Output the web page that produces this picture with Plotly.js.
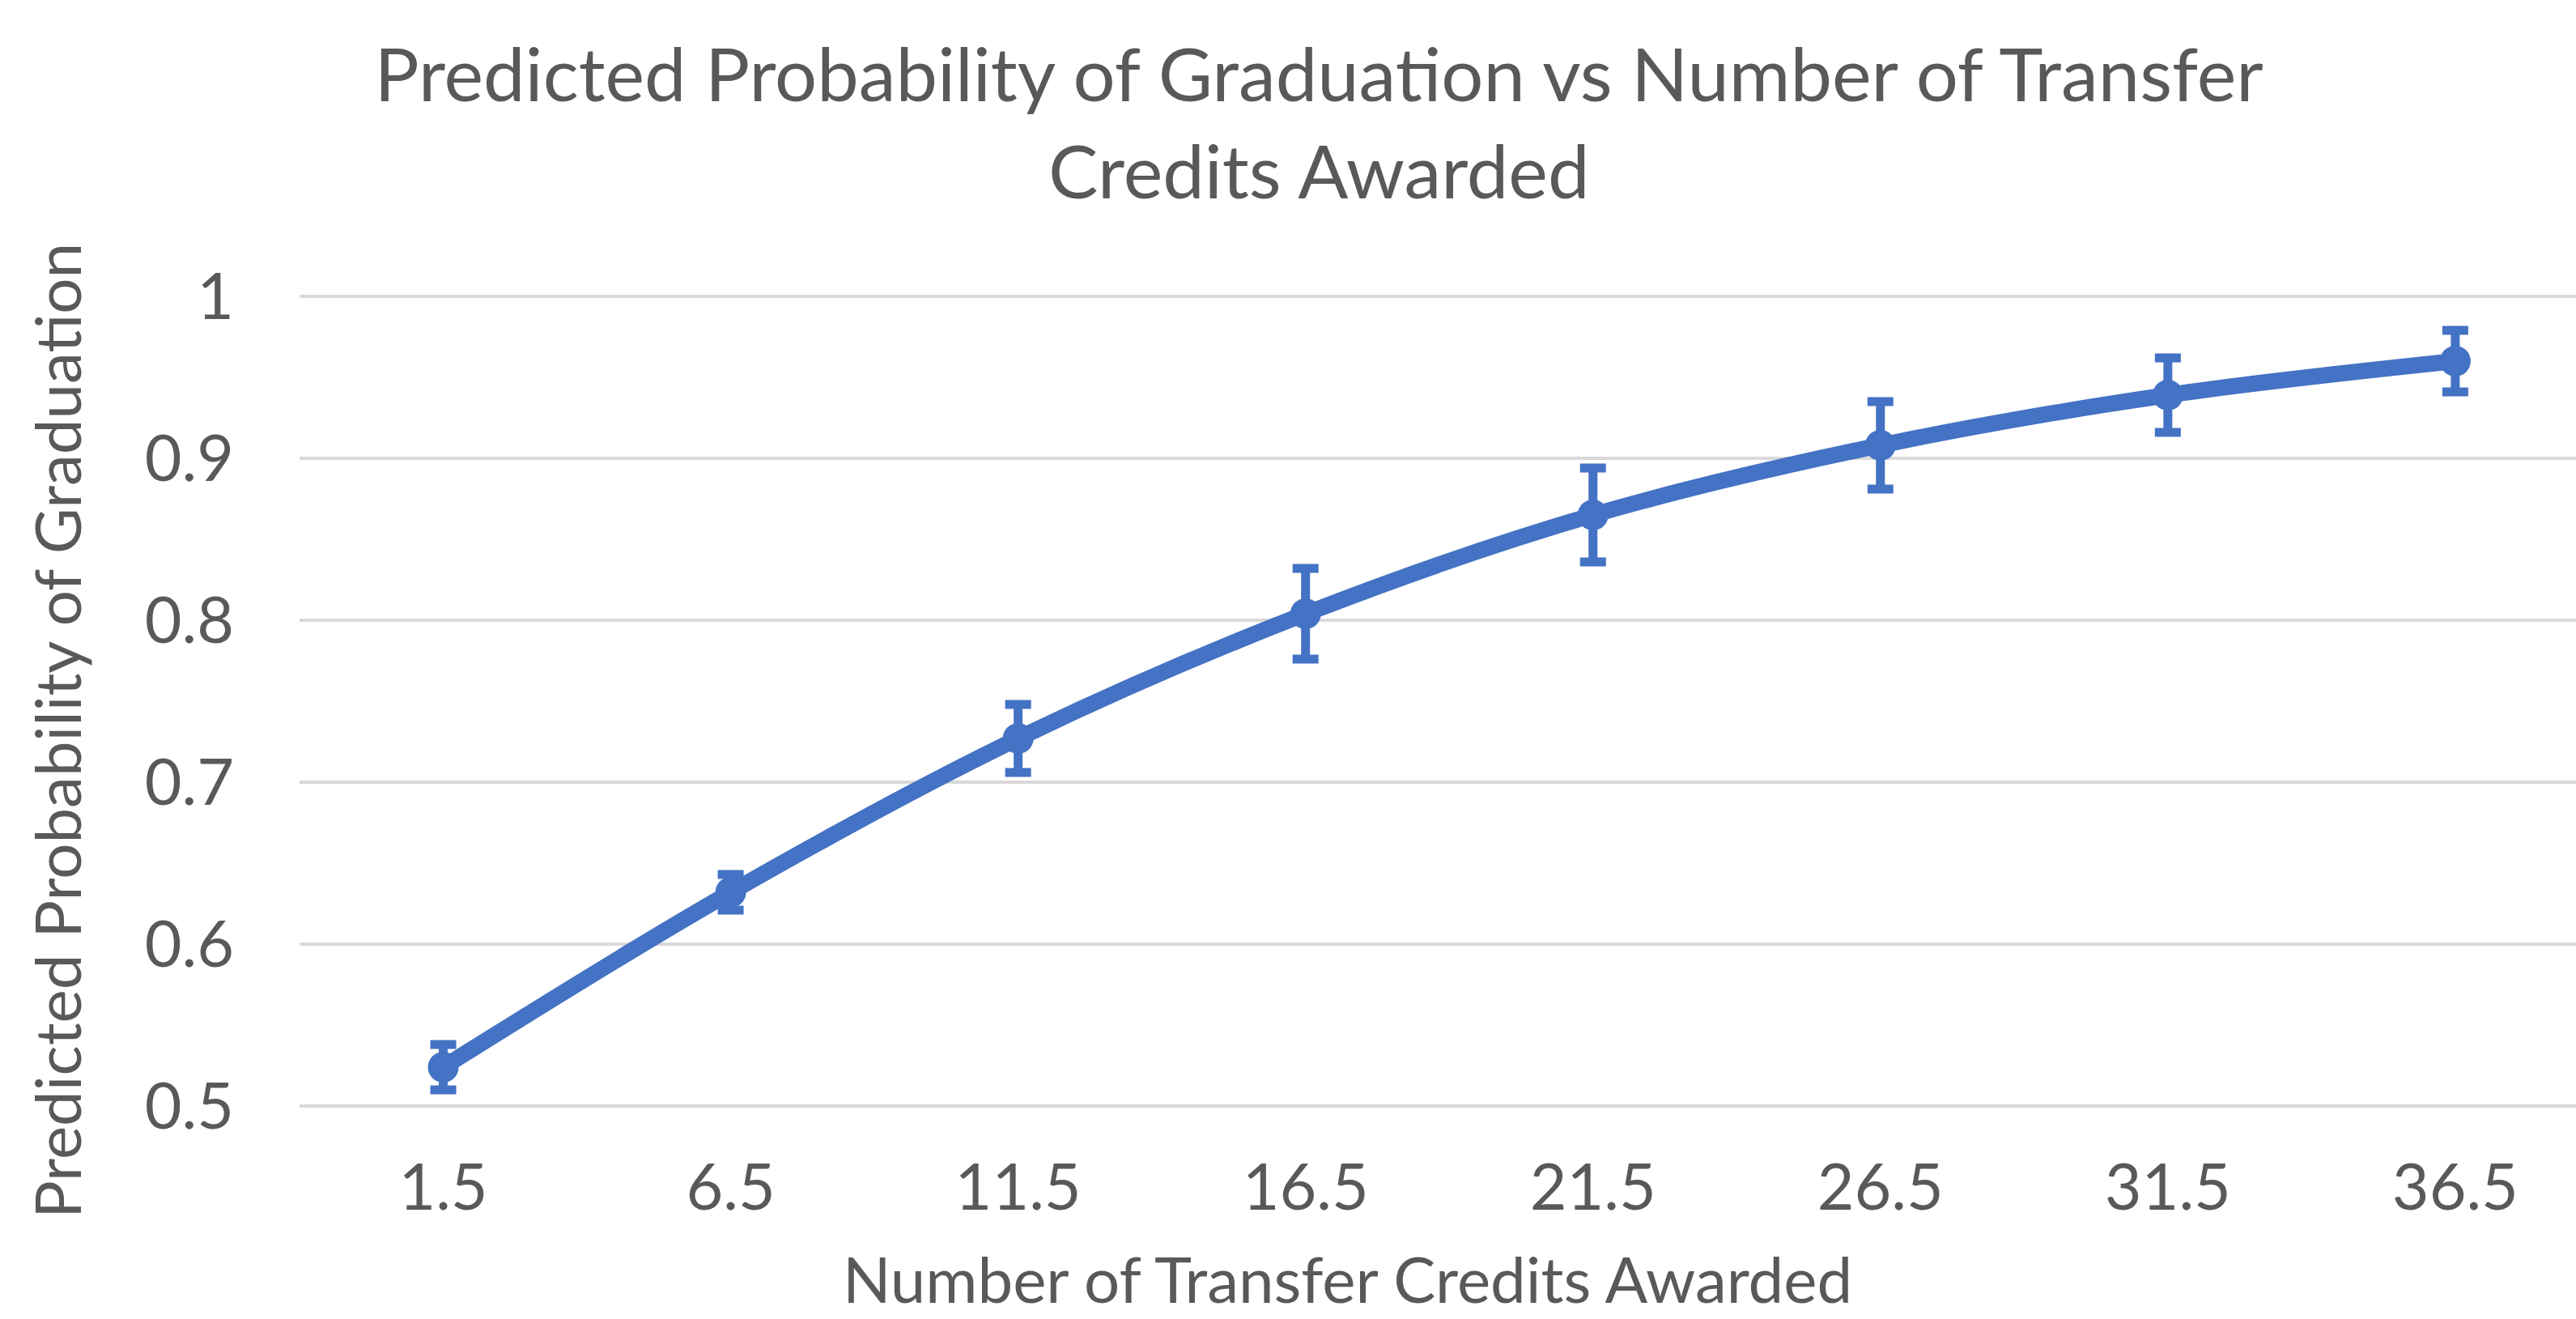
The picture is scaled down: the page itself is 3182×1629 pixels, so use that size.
<!DOCTYPE html>
<html>
<head>
<meta charset="utf-8">
<script src="https://cdn.plot.ly/plotly-3.0.1.min.js"></script>
<style>
  html, body { margin: 0; padding: 0; background: #ffffff; }
  #chart { width: 3182px; height: 1629px; }
</style>
</head>
<body>
<div id="chart"></div>
<script>
// ---- data ----
const credits = ["1.5", "6.5", "11.5", "16.5", "21.5", "26.5", "31.5", "36.5"];
const probability = [0.524, 0.632, 0.727, 0.804, 0.865, 0.908, 0.939, 0.960];
const errorMargin = [0.014, 0.011, 0.021, 0.028, 0.029, 0.027, 0.023, 0.019];
const yTicks = [0.5, 0.6, 0.7, 0.8, 0.9, 1];

const chartTitle = "Predicted Probability of Graduation vs Number of Transfer<br>Credits Awarded";
const xTitle = "Number of Transfer Credits Awarded";
const yTitle = "Predicted Probability of Graduation";

const blue = "#4472C4";
const grey = "#595959";
const font = "Lato, 'Open Sans', sans-serif";

const trace = {
  type: "scatter",
  mode: "lines+markers",
  x: credits,
  y: probability,
  line: { color: blue, width: 20, shape: "spline", smoothing: 1 },
  marker: { color: blue, size: 38, symbol: "circle" },
  error_y: {
    type: "data",
    array: errorMargin,
    visible: true,
    color: blue,
    thickness: 11,
    width: 16
  },
  showlegend: false,
  hoverinfo: "x+y"
};

const layout = {
  width: 3182,
  height: 1629,
  paper_bgcolor: "#ffffff",
  plot_bgcolor: "#ffffff",
  margin: { l: 370, r: 0, t: 362, b: 259, pad: 0 },
  font: { family: font, color: grey },
  title: {
    text: chartTitle,
    font: { family: font, size: 92, color: grey },
    x: 0.512,
    xref: "container",
    xanchor: "center",
    y: 1 - 125 / 1629,
    yref: "container",
    yanchor: "top"
  },
  xaxis: {
    type: "category",
    range: [-0.5, 7.42],
    showgrid: false,
    zeroline: false,
    showline: false,
    ticks: "",
    tickfont: { family: font, size: 79, color: grey },
    ticklabelstandoff: 44,
    fixedrange: true
  },
  yaxis: {
    range: [0.498, 1.002],
    tickvals: yTicks,
    ticktext: yTicks.map(v => String(v)),
    showgrid: true,
    gridcolor: "#d9d9d9",
    gridwidth: 4,
    zeroline: false,
    showline: false,
    ticks: "",
    tickfont: { family: font, size: 79, color: grey },
    ticklabelstandoff: 80,
    fixedrange: true
  },
  annotations: [
    {
      text: xTitle,
      xref: "paper", yref: "paper",
      x: (1664 - 370) / 2812, y: (1370 - 1627) / 1008,
      xanchor: "center", yanchor: "bottom",
      borderpad: 0,
      showarrow: false,
      font: { family: font, size: 78, color: grey }
    },
    {
      text: yTitle,
      textangle: -90,
      xref: "paper", yref: "paper",
      x: (70 - 370) / 2812, y: (1370 - 903) / 1008,
      xanchor: "center", yanchor: "middle",
      showarrow: false,
      font: { family: font, size: 78, color: grey }
    }
  ]
};

Plotly.newPlot("chart", [trace], layout, { displayModeBar: false, staticPlot: true });
</script>
</body>
</html>
